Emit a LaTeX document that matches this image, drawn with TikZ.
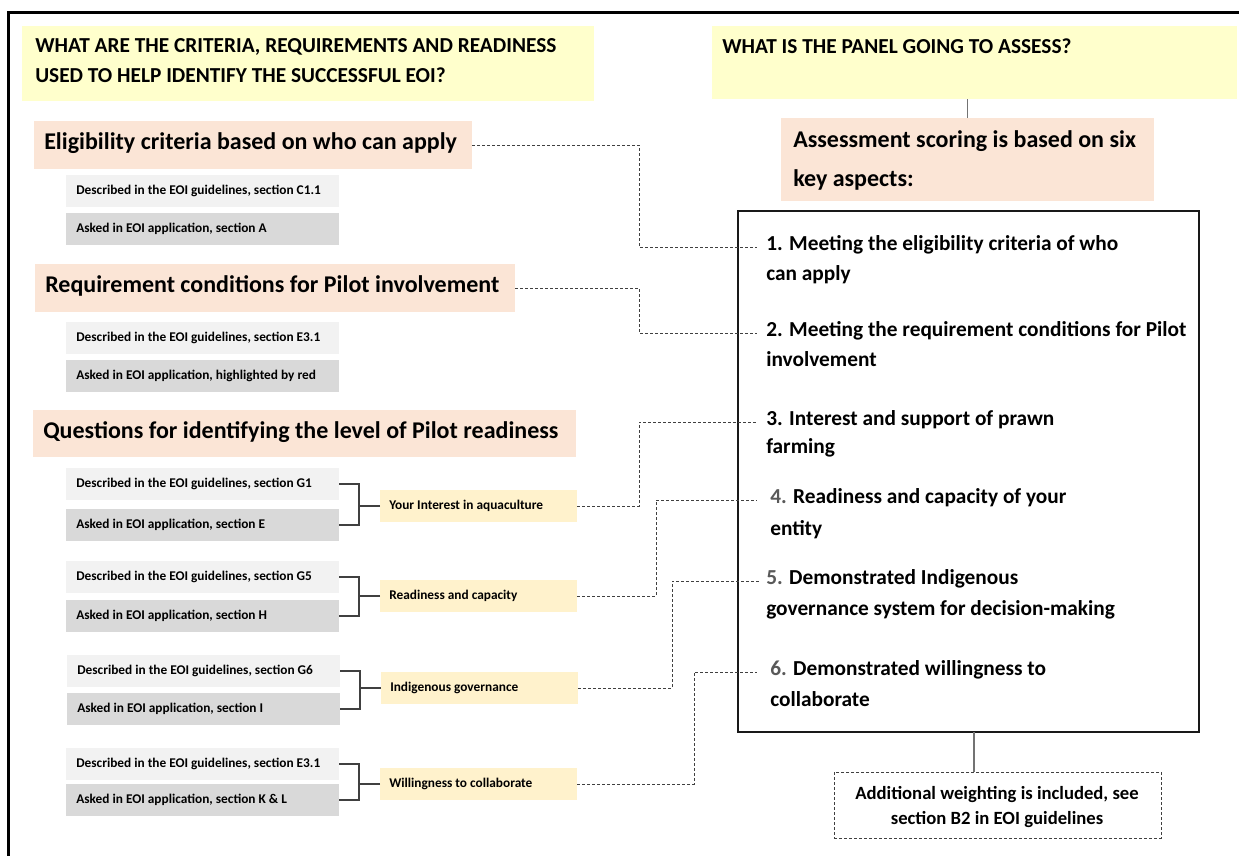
\documentclass[tikz,border=0pt]{standalone}
\usepackage{fontspec}
\setmainfont{Carlito}
\definecolor{hdrY}{HTML}{FFFFCC}
\definecolor{peach}{HTML}{FBE5D6}
\definecolor{lgrey}{HTML}{F2F2F2}
\definecolor{dgrey}{HTML}{D9D9D9}
\definecolor{labY}{HTML}{FFF2CC}
\definecolor{connC}{HTML}{404040}
\definecolor{numC}{HTML}{595959}
\begin{document}
\begin{tikzpicture}[x=0.75pt,y=-0.75pt,
  box/.style={anchor=north west, inner sep=0pt, outer sep=0pt, draw=none},
  hy/.style={box, fill=hdrY},
  pch/.style={box, fill=peach},
  lg/.style={box, fill=lgrey, minimum width=204.75pt, minimum height=24pt},
  dg/.style={box, fill=dgrey, minimum width=204.75pt, minimum height=24pt},
  lab/.style={box, fill=labY, minimum width=147.75pt, minimum height=24pt},
  txt/.style={anchor=west, inner sep=0pt, text height=0.72em, text depth=0.22em},
  hdr/.style={txt, font=\bfseries\fontsize{16pt}{19pt}\selectfont},
  ttl/.style={txt, font=\bfseries\fontsize{18pt}{22pt}\selectfont},
  itm/.style={txt, font=\bfseries\fontsize{16pt}{19pt}\selectfont},
  sml/.style={txt, font=\bfseries\fontsize{10pt}{12pt}\selectfont},
  wtx/.style={inner sep=0pt, text height=0.72em, text depth=0.22em, font=\bfseries\fontsize{14pt}{17pt}\selectfont},
  conn/.style={draw=connC, line width=0.75pt, dash pattern=on 2.25pt off 1.5pt},
  brk/.style={draw=connC, line width=1pt},
  vline/.style={draw=black!55, line width=1pt}
]
\useasboundingbox (0,0) rectangle (1239,856);
\fill[white] (0,0) rectangle (1239,856);
% outer frame
\draw[line width=2.25pt] (8,860) -- (8,13) -- (1243,13);

% headers
\node[hy, minimum width=429pt, minimum height=56.25pt] (hL) at (22,26) {};
\node[hdr] (hL1) at (35,49) {WHAT ARE THE CRITERIA, REQUIREMENTS AND READINESS};
\node[hdr] (hL2) at (35,79) {USED TO HELP IDENTIFY THE SUCCESSFUL EOI?};
\node[hy, minimum width=393.75pt, minimum height=54.75pt] (hR) at (712,26) {};
\node[hdr] (hR1) at (722,50) {WHAT IS THE PANEL GOING TO ASSESS?};

% assessment box
\node[pch, minimum width=279.75pt, minimum height=62.25pt] (aS) at (781,118) {};
\node[ttl] (aS1) at (793,144) {Assessment scoring is based on six};
\node[ttl] (aS2) at (793,183) {key aspects:};
\draw[vline] (aS.north) -- (aS.north |- hR.south);

% big box and items
\node[box, draw=black!90, line width=1.1pt, minimum width=345.75pt, minimum height=390.75pt] (big) at (738,211) {};
\node[itm] (i1) at (766,247) {1. Meeting the eligibility criteria of who};
\node[itm] (i1b) at (766,277) {can apply};
\node[itm] (i2) at (766,333) {2. Meeting the requirement conditions for Pilot};
\node[itm] (i2b) at (766,363) {involvement};
\node[itm] (i3) at (766,422) {3. Interest and support of prawn};
\node[itm] (i3b) at (766,450) {farming};
\node[itm] (i4) at (770,500) {\textcolor{numC}{4.} Readiness and capacity of your};
\node[itm] (i4b) at (770,532) {entity};
\node[itm] (i5) at (766,581) {\textcolor{numC}{5.} Demonstrated Indigenous};
\node[itm] (i5b) at (766,612) {governance system for decision-making};
\node[itm] (i6) at (770,672) {\textcolor{numC}{6.} Demonstrated willingness to};
\node[itm] (i6b) at (770,703) {collaborate};

% additional weighting
\node[box, conn, minimum width=245.25pt, minimum height=49.5pt] (wt) at (834,772) {};
\node[wtx] (wt1) at (997,796) {Additional weighting is included, see};
\node[wtx] (wt2) at (997,821) {section B2 in EOI guidelines};
\draw[vline] ([xshift=4pt]big.south) -- ([xshift=4pt]big.south |- wt.north);

% left: eligibility
\node[pch, minimum width=328.5pt, minimum height=36pt] (e1) at (34,121) {};
\node[ttl] (e1t) at (44,146) {Eligibility criteria based on who can apply};
\node[lg] (e1a) at (66,175) {};
\node[sml] at ([xshift=7.5pt]e1a.west) {Described in the EOI guidelines, section C1.1};
\node[dg] (e1b) at (66,213) {};
\node[sml] at ([xshift=7.5pt]e1b.west) {Asked in EOI application, section A};

% left: requirement
\node[pch, minimum width=360pt, minimum height=36pt] (r1) at (35,264) {};
\node[ttl] (r1t) at (45,289) {Requirement conditions for Pilot involvement};
\node[lg] (r1a) at (66,322) {};
\node[sml] at ([xshift=7.5pt]r1a.west) {Described in the EOI guidelines, section E3.1};
\node[dg] (r1b) at (66,360) {};
\node[sml] at ([xshift=7.5pt]r1b.west) {Asked in EOI application, highlighted by red};

% left: questions
\node[pch, minimum width=407.25pt, minimum height=35.25pt] (q1) at (33,410) {};
\node[ttl] (q1t) at (43,435) {Questions for identifying the level of Pilot readiness};

\node[lg] (g1a) at (66,468) {};
\node[sml] at ([xshift=7.5pt]g1a.west) {Described in the EOI guidelines, section G1};
\node[dg] (g1b) at (66,509) {};
\node[sml] at ([xshift=7.5pt]g1b.west) {Asked in EOI application, section E};
\node[lab] (L1) at (380,490) {};
\node[sml] at ([xshift=6.75pt]L1.west) {Your Interest in aquaculture};

\node[lg] (g2a) at (66,561) {};
\node[sml] at ([xshift=7.5pt]g2a.west) {Described in the EOI guidelines, section G5};
\node[dg] (g2b) at (66,600) {};
\node[sml] at ([xshift=7.5pt]g2b.west) {Asked in EOI application, section H};
\node[lab] (L2) at (380,580) {};
\node[sml] at ([xshift=6.75pt]L2.west) {Readiness and capacity};

\node[lg] (g3a) at (67,655) {};
\node[sml] at ([xshift=7.5pt]g3a.west) {Described in the EOI guidelines, section G6};
\node[dg] (g3b) at (67,693) {};
\node[sml] at ([xshift=7.5pt]g3b.west) {Asked in EOI application, section I};
\node[lab] (L3) at (381,672) {};
\node[sml] at ([xshift=6.75pt]L3.west) {Indigenous governance};

\node[lg] (g4a) at (66,748) {};
\node[sml] at ([xshift=7.5pt]g4a.west) {Described in the EOI guidelines, section E3.1};
\node[dg] (g4b) at (66,784) {};
\node[sml] at ([xshift=7.5pt]g4b.west) {Asked in EOI application, section K \& L};
\node[lab] (L4) at (380,768) {};
\node[sml] at ([xshift=6.75pt]L4.west) {Willingness to collaborate};

% brackets
\foreach \a/\b/\l in {g1a/g1b/L1, g2a/g2b/L2, g3a/g3b/L3, g4a/g4b/L4}{
  \draw[brk] (\a.east) -- ++(20,0) coordinate (k) |- (\b.east);
  \draw[brk] (\l.west) -- (\l.west -| k);
}

% dotted connectors
\draw[conn] (e1.east) -| ([xshift=-95.25pt]i1.west) -- ([xshift=-6.75pt]i1.west);
\draw[conn] (r1.east) -| ([xshift=-95.25pt]i2.west) -- ([xshift=-6.75pt]i2.west);
\draw[conn] (L1.east) -| ([xshift=-95.25pt]i3.west) -- ([xshift=-6.75pt]i3.west);
\draw[conn] (L2.east) -| ([xshift=-85.5pt]i4.west) -- ([xshift=-9.75pt]i4.west);
\draw[conn] (L3.east) -| ([xshift=-70.5pt]i5.west) -- ([xshift=-5.25pt]i5.west);
\draw[conn] (L4.east) -| ([xshift=-57pt]i6.west) -- ([xshift=-9.75pt]i6.west);
\end{tikzpicture}
\end{document}
